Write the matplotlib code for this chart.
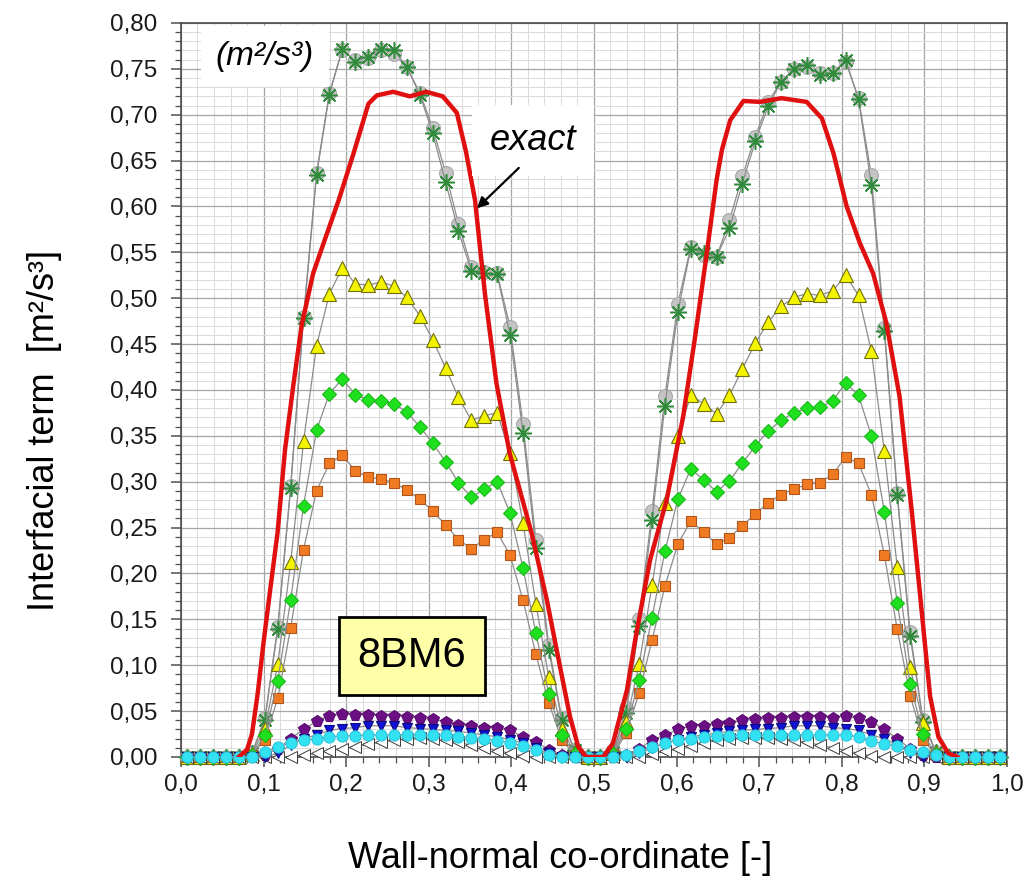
#!/usr/bin/env python3
"""
Interfacial term profile across the channel (case 8BM6).

Symbols are the resolved model profiles on the 64-cell grid, the thick red
line is the exact solution.  Writes out.png.
"""

import matplotlib
matplotlib.use('Agg')
import matplotlib.pyplot as plt
from matplotlib.ticker import MultipleLocator, FuncFormatter

plt.rcParams['font.family'] = ['Liberation Sans', 'DejaVu Sans']

# ---------------------------------------------------------------------------
# Data
# ---------------------------------------------------------------------------

X = [0.0078, 0.0234, 0.0391, 0.0547, 0.0703, 0.0859, 0.1016, 0.1172,
     0.1328, 0.1484, 0.1641, 0.1797, 0.1953, 0.2109, 0.2266, 0.2422,
     0.2578, 0.2734, 0.2891, 0.3047, 0.3203, 0.3359, 0.3516, 0.3672,
     0.3828, 0.3984, 0.4141, 0.4297, 0.4453, 0.4609, 0.4766, 0.4922,
     0.5078, 0.5234, 0.5391, 0.5547, 0.5703, 0.5859, 0.6016, 0.6172,
     0.6328, 0.6484, 0.6641, 0.6797, 0.6953, 0.7109, 0.7266, 0.7422,
     0.7578, 0.7734, 0.7891, 0.8047, 0.8203, 0.8359, 0.8516, 0.8672,
     0.8828, 0.8984, 0.9141, 0.9297, 0.9453, 0.9609, 0.9766, 0.9922]

GRAY = [0.0, 0.0, 0.0, 0.0, 0.0, 0.004, 0.042, 0.142,
        0.295, 0.480, 0.636, 0.724, 0.770, 0.760, 0.762, 0.770,
        0.766, 0.752, 0.724, 0.686, 0.637, 0.581, 0.534, 0.529,
        0.527, 0.469, 0.363, 0.237, 0.122, 0.042, 0.008, 0.0,
        0.0, 0.006, 0.053, 0.150, 0.268, 0.393, 0.494, 0.556,
        0.547, 0.545, 0.585, 0.633, 0.676, 0.714, 0.736, 0.750,
        0.752, 0.745, 0.745, 0.758, 0.718, 0.634, 0.468, 0.288,
        0.136, 0.040, 0.005, 0.0, 0.0, 0.0, 0.0, 0.0]

ASTER = [0.0, 0.0, 0.0, 0.0, 0.0, 0.004, 0.040, 0.140,
         0.293, 0.478, 0.634, 0.722, 0.772, 0.758, 0.763, 0.772,
         0.771, 0.752, 0.722, 0.680, 0.627, 0.573, 0.530, 0.527,
         0.526, 0.460, 0.353, 0.228, 0.117, 0.040, 0.008, 0.0,
         0.0, 0.005, 0.048, 0.143, 0.258, 0.383, 0.485, 0.554,
         0.549, 0.545, 0.576, 0.625, 0.671, 0.709, 0.736, 0.750,
         0.754, 0.743, 0.745, 0.760, 0.717, 0.623, 0.464, 0.285,
         0.132, 0.038, 0.005, 0.0, 0.0, 0.0, 0.0, 0.0]

YELLOW = [0.0, 0.0, 0.0, 0.0, 0.0, 0.003, 0.031, 0.101,
          0.212, 0.344, 0.448, 0.505, 0.533, 0.516, 0.514, 0.518,
          0.513, 0.501, 0.481, 0.455, 0.424, 0.392, 0.367, 0.372,
          0.375, 0.331, 0.255, 0.167, 0.087, 0.031, 0.005, 0.0,
          0.0, 0.004, 0.038, 0.101, 0.187, 0.277, 0.350, 0.394,
          0.385, 0.374, 0.394, 0.423, 0.451, 0.474, 0.491, 0.501,
          0.505, 0.503, 0.508, 0.525, 0.503, 0.442, 0.333, 0.207,
          0.098, 0.037, 0.005, 0.0, 0.0, 0.0, 0.0, 0.0]

GREEN = [0.0, 0.0, 0.0, 0.0, 0.0, 0.002, 0.024, 0.083,
         0.171, 0.274, 0.356, 0.396, 0.412, 0.395, 0.389, 0.388,
         0.385, 0.376, 0.360, 0.342, 0.322, 0.299, 0.283, 0.292,
         0.300, 0.266, 0.206, 0.135, 0.069, 0.024, 0.003, 0.0,
         0.0, 0.003, 0.031, 0.084, 0.152, 0.224, 0.281, 0.314,
         0.302, 0.289, 0.301, 0.320, 0.339, 0.355, 0.367, 0.375,
         0.380, 0.381, 0.388, 0.408, 0.394, 0.350, 0.267, 0.168,
         0.080, 0.025, 0.003, 0.0, 0.0, 0.0, 0.0, 0.0]

ORANGE = [0.0, 0.0, 0.0, 0.0, 0.0, 0.002, 0.019, 0.064,
          0.141, 0.226, 0.290, 0.320, 0.329, 0.312, 0.305, 0.303,
          0.299, 0.291, 0.281, 0.268, 0.253, 0.237, 0.227, 0.237,
          0.245, 0.220, 0.171, 0.112, 0.059, 0.019, 0.002, 0.0,
          0.0, 0.003, 0.026, 0.070, 0.127, 0.186, 0.232, 0.257,
          0.245, 0.232, 0.239, 0.252, 0.265, 0.277, 0.286, 0.292,
          0.297, 0.299, 0.308, 0.327, 0.320, 0.286, 0.220, 0.139,
          0.067, 0.019, 0.002, 0.0, 0.0, 0.0, 0.0, 0.0]

PURPLE = [0.0, 0.0, 0.0, 0.0, 0.0, 0.0, 0.002, 0.009,
          0.020, 0.030, 0.039, 0.045, 0.047, 0.046, 0.046, 0.045,
          0.045, 0.044, 0.042, 0.041, 0.0385, 0.035, 0.034, 0.032,
          0.032, 0.029, 0.022, 0.016, 0.008, 0.002, 0.0, 0.0,
          0.0, 0.0, 0.002, 0.009, 0.0185, 0.024, 0.030, 0.034,
          0.034, 0.036, 0.037, 0.040, 0.041, 0.042, 0.043, 0.044,
          0.044, 0.044, 0.043, 0.045, 0.042, 0.0385, 0.030, 0.020,
          0.009, 0.002, 0.0, 0.0, 0.0, 0.0, 0.0, 0.0]

BLUE = [0.0, 0.0, 0.0, 0.0, 0.0, 0.0, 0.0, 0.004,
        0.013, 0.020, 0.024, 0.029, 0.031, 0.032, 0.034, 0.034,
        0.034, 0.032, 0.031, 0.030, 0.029, 0.028, 0.026, 0.024,
        0.022, 0.019, 0.015, 0.0095, 0.004, 0.0, 0.0, 0.0,
        0.0, 0.0, 0.0, 0.004, 0.0095, 0.015, 0.019, 0.022,
        0.024, 0.026, 0.028, 0.029, 0.030, 0.031, 0.032, 0.034,
        0.034, 0.034, 0.032, 0.031, 0.029, 0.024, 0.020, 0.013,
        0.004, 0.0, 0.0, 0.0, 0.0, 0.0, 0.0, 0.0]

CYAN = [0.0, 0.0, 0.0, 0.0, 0.0, 0.0, 0.005, 0.0105,
        0.0156, 0.0185, 0.020, 0.022, 0.023, 0.0233, 0.024, 0.024,
        0.024, 0.024, 0.024, 0.024, 0.0238, 0.022, 0.021, 0.0196,
        0.0178, 0.0156, 0.012, 0.0076, 0.002, 0.0, 0.0, 0.0,
        0.0, 0.0, 0.002, 0.006, 0.011, 0.015, 0.0185, 0.020,
        0.022, 0.023, 0.023, 0.024, 0.024, 0.024, 0.024, 0.024,
        0.024, 0.024, 0.024, 0.024, 0.022, 0.017, 0.0145, 0.012,
        0.0076, 0.005, 0.002, 0.0, 0.0, 0.0, 0.0, 0.0]

WHITE = [0.0, 0.0, 0.0, 0.0, 0.0, 0.0, 0.0, 0.0,
         0.0, 0.002, 0.004, 0.007, 0.009, 0.011, 0.014, 0.016,
         0.0185, 0.020, 0.021, 0.020, 0.018, 0.016, 0.013, 0.010,
         0.007, 0.004, 0.001, 0.0, 0.0, 0.0, 0.0, 0.0,
         0.0, 0.0, 0.0, 0.0, 0.003, 0.006, 0.009, 0.012,
         0.015, 0.018, 0.020, 0.021, 0.021, 0.021, 0.020, 0.0185,
         0.016, 0.013, 0.010, 0.007, 0.004, 0.001, 0.0, 0.0,
         0.0, 0.0, 0.0, 0.0, 0.0, 0.0, 0.0, 0.0]

EXACT_X = [0.070, 0.080, 0.086, 0.093, 0.100, 0.107, 0.117, 0.126, 0.136,
           0.146, 0.160, 0.175, 0.191, 0.209, 0.227, 0.237, 0.257, 0.277,
           0.297, 0.317, 0.334, 0.345, 0.356, 0.368, 0.382, 0.398, 0.4245,
           0.443, 0.459, 0.471, 0.481, 0.491, 0.511, 0.523, 0.540, 0.550,
           0.568, 0.588, 0.608, 0.622, 0.636, 0.6485, 0.655, 0.665, 0.681,
           0.701, 0.727, 0.7575, 0.776, 0.790, 0.806, 0.822, 0.838, 0.854,
           0.870, 0.885, 0.897, 0.907, 0.917, 0.929, 0.940]
EXACT_Y = [0.0, 0.008, 0.025, 0.070, 0.125, 0.175, 0.245, 0.335, 0.405,
           0.470, 0.527, 0.566, 0.607, 0.658, 0.712, 0.721, 0.725, 0.720,
           0.725, 0.720, 0.702, 0.660, 0.607, 0.505, 0.407, 0.331, 0.244,
           0.171, 0.098, 0.044, 0.011, 0.0, 0.0, 0.015, 0.073, 0.128,
           0.215, 0.280, 0.371, 0.455, 0.545, 0.629, 0.662, 0.694, 0.715,
           0.714, 0.718, 0.714, 0.696, 0.658, 0.600, 0.560, 0.527, 0.473,
           0.393, 0.266, 0.157, 0.066, 0.022, 0.004, 0.0]

X_TICKS = [0.0, 0.1, 0.2, 0.3, 0.4, 0.5, 0.6, 0.7, 0.8, 0.9, 1.0]
Y_TICKS = [0.00, 0.05, 0.10, 0.15, 0.20, 0.25, 0.30, 0.35, 0.40,
           0.45, 0.50, 0.55, 0.60, 0.65, 0.70, 0.75, 0.80]

LINE_GRAY = '#8c8c8c'

# (values, marker, size, face, edge, edge width) in drawing order
SERIES = [
    (GRAY,   'o',       10.0, '#c4c4c4', '#a8a8a8', 0.8),
    (ASTER,  (8, 2, 0), 12.0, 'none',    '#2e8b3a', 1.1),
    (YELLOW, '^',       10.0, '#f4f400', '#6e6e10', 0.8),
    (ORANGE, 's',        7.5, '#f07a22', '#b0561a', 0.8),
    (GREEN,  'D',        7.0, '#1fe01f', '#19b819', 0.8),
    (WHITE,  '<',        8.0, 'white',   '#3c3c3c', 0.7),
    (PURPLE, 'p',        8.5, '#6c0f84', '#5a0c6e', 0.8),
    (BLUE,   'v',        7.5, '#1212d6', '#0a0a80', 0.8),
    (CYAN,   'o',        8.0, '#33e2f2', '#2cc8de', 0.8),
]


def comma(fmt):
    return FuncFormatter(lambda v, pos: format(v, fmt).replace('.', ','))


def main():
    fig = plt.figure(figsize=(10.3, 8.8), dpi=100)
    ax = fig.add_axes([0.1757, 0.1398, 0.8019, 0.8341])

    # grid: darker major lines, light minor lines
    ax.set_xlim(0, 1)
    ax.set_ylim(0, 0.8)
    ax.set_xticks(X_TICKS)
    ax.set_yticks(Y_TICKS)
    ax.xaxis.set_minor_locator(MultipleLocator(0.02))
    ax.yaxis.set_minor_locator(MultipleLocator(0.01))
    ax.grid(True, which='major', color='#a6a6a6', lw=0.9)
    ax.grid(True, which='minor', color='#dadada', lw=0.7)
    ax.set_axisbelow(True)

    ax.xaxis.set_major_formatter(comma('.1f'))
    ax.yaxis.set_major_formatter(comma('.2f'))
    ax.tick_params(which='major', direction='out', length=7, width=1.1,
                   color='#505050', labelsize=17.5, labelcolor='#1a1a1a')
    ax.tick_params(which='minor', direction='out', length=4, width=0.9,
                   color='#505050')
    ax.tick_params(axis='y', which='major', pad=10)
    ax.tick_params(axis='x', which='major', pad=5)
    for s in ax.spines.values():
        s.set_color('#4a4a4a')
        s.set_linewidth(1.2)

    for vals, mk, ms, fc, ec, mew in SERIES:
        ax.plot(X, vals, color=LINE_GRAY, lw=0.9, marker=mk, ms=ms,
                mfc=fc, mec=ec, mew=mew, clip_on=False, zorder=3)

    ax.plot(EXACT_X, EXACT_Y, color='#e01010', lw=3.2, zorder=4)

    # annotations
    ax.text(0.1017, 0.763, '(m²/s³)', fontsize=24, style='italic',
            ha='center', va='center', zorder=5,
            bbox=dict(boxstyle='square,pad=0.45', fc='white', ec='none'))
    ax.text(0.426, 0.672, 'exact', fontsize=26, style='italic',
            ha='center', va='center', zorder=5,
            bbox=dict(boxstyle='square,pad=0.5', fc='white', ec='none'))
    ax.annotate('', xy=(0.3584, 0.598), xytext=(0.409, 0.642), zorder=6,
                arrowprops=dict(arrowstyle='-|>', color='black', lw=1.6,
                                mutation_scale=16, shrinkA=0, shrinkB=0))
    ax.text(0.2797, 0.110, '8BM6', fontsize=30, ha='center', va='center',
            zorder=6,
            bbox=dict(boxstyle='square,pad=0.45', fc='#ffffa8', ec='black',
                      lw=2.0))

    fig.text(560 / 1030, 1 - 858 / 880, 'Wall-normal co-ordinate [-]',
             fontsize=26, ha='center', va='center')
    fig.text(45 / 1030, 1 - 430 / 880, 'Interfacial term  [m²/s³]',
             fontsize=26, ha='center', va='center', rotation=90)

    fig.savefig('out.png', dpi=100)


if __name__ == '__main__':
    main()
